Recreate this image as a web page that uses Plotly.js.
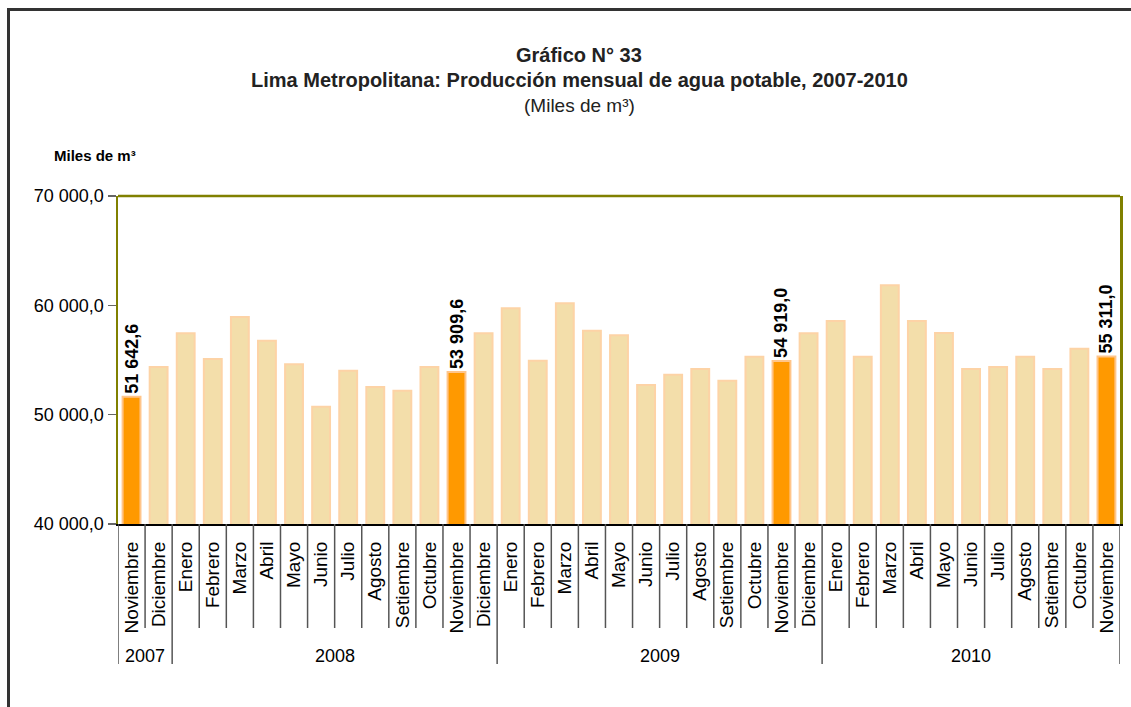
<!DOCTYPE html>
<html>
<head>
<meta charset="utf-8">
<script src="https://cdn.plot.ly/plotly-3.0.1.min.js"></script>
<style>
  html, body { margin: 0; padding: 0; background: #fff; }
  #wrap { position: relative; width: 1131px; height: 707px; }
  #chart { width: 1131px; height: 707px; }
  #frame { position: absolute; left: 7px; top: 8px; width: 1124px; height: 699px;
           border-top: 3px solid #333; border-left: 3px solid #333; pointer-events: none; box-sizing: border-box; }
</style>
</head>
<body>
<div id="wrap">
  <div id="chart"></div>
  <div id="frame"></div>
</div>
<script>
// ---- data ----
const months = [
  'Noviembre','Diciembre',
  'Enero','Febrero','Marzo','Abril','Mayo','Junio','Julio','Agosto','Setiembre','Octubre','Noviembre','Diciembre',
  'Enero','Febrero','Marzo','Abril','Mayo','Junio','Julio','Agosto','Setiembre','Octubre','Noviembre','Diciembre',
  'Enero','Febrero','Marzo','Abril','Mayo','Junio','Julio','Agosto','Setiembre','Octubre','Noviembre'
];
const years = ['2007', '2008', '2009', '2010'];
const yearCounts = [2, 12, 12, 11];
const production = [
  51642.6, 54364,
  57447, 55096, 58939, 56771, 54611, 50732, 54026, 52534, 52196, 54364, 53909.6, 57447,
  59734, 54940, 60192, 57685, 57264, 52717, 53660, 54181, 53111, 55306, 54919.0, 57447,
  58573, 55306, 61839, 58573, 57475, 54181, 54364, 55306, 54181, 56038, 55311.0
];
const valueLabels = [
  '51 642,6', '',
  '', '', '', '', '', '', '', '', '', '', '53 909,6', '',
  '', '', '', '', '', '', '', '', '', '', '54 919,0', '',
  '', '', '', '', '', '', '', '', '', '', '55 311,0'
];
const yTickVals = [40000, 50000, 60000, 70000];
const yTickText = ['40 000,0', '50 000,0', '60 000,0', '70 000,0'];
const titleLines = [
  'Gráfico N° 33',
  'Lima Metropolitana: Producción mensual de agua potable, 2007-2010',
  '(Miles de m³)'
];
const unitLabel = 'Miles de m³';

// ---- build ----
const idx = production.map((_, i) => i);
const hiIdx = idx.filter(i => valueLabels[i] !== '');
const loIdx = idx.filter(i => valueLabels[i] === '');
const BAR_W = 0.66;

const FONT = 'Liberation Sans, Arial, sans-serif';
const NARROW = 'Liberation Sans Narrow, Arial Narrow, Liberation Sans, Arial, sans-serif';

const baseTrace = {
  type: 'bar',
  x: loIdx,
  y: loIdx.map(i => production[i]),
  width: BAR_W,
  marker: { color: '#F3DEAA', line: { color: '#FDD3A6', width: 2 } },
  hoverinfo: 'skip'
};
const hiTrace = {
  type: 'bar',
  x: hiIdx,
  y: hiIdx.map(i => production[i]),
  width: BAR_W,
  text: hiIdx.map(i => valueLabels[i]),
  textposition: 'outside',
  textangle: -90,
  constraintext: 'none',
  cliponaxis: false,
  textfont: { family: FONT, size: 18, color: '#000', weight: 'bold' },
  marker: { color: '#FF9900', line: { color: '#FFC58A', width: 2 } },
  hoverinfo: 'skip'
};

const shapes = [];
const annotations = [];
const H = 328; // plot height in px (for paper conversion)
const W = 1002;
const sepBottom = -(628 - 524) / H;
const yearBottom = -(664 - 524) / H;

// month separators
for (let i = 0; i <= months.length; i++) {
  shapes.push({ type: 'line', xref: 'x', yref: 'paper', x0: i - 0.5, x1: i - 0.5,
    y0: 0, y1: sepBottom, line: { color: '#555', width: 1.5 } });
}
// year separators and labels
let start = 0;
for (let k = 0; k < years.length; k++) {
  const end = start + yearCounts[k];
  shapes.push({ type: 'line', xref: 'x', yref: 'paper', x0: start - 0.5, x1: start - 0.5,
    y0: sepBottom, y1: yearBottom, line: { color: '#555', width: 1.5 } });
  annotations.push({ xref: 'x', yref: 'paper', x: (start + end - 1) / 2, y: -(656 - 524) / H,
    text: years[k], showarrow: false, font: { family: FONT, size: 18, color: '#000' },
    xanchor: 'center', yanchor: 'middle' });
  start = end;
}
shapes.push({ type: 'line', xref: 'x', yref: 'paper', x0: start - 0.5, x1: start - 0.5,
  y0: sepBottom, y1: yearBottom, line: { color: '#555', width: 1.5 } });

// top frame line (olive)
shapes.push({ type: 'line', xref: 'paper', yref: 'paper', x0: 0, x1: 1, y0: 1, y1: 1,
  line: { color: '#808000', width: 2.5 } });

// title lines
const titleY = [55, 80, 105];
titleLines.forEach((t, k) => {
  annotations.push({ xref: 'paper', yref: 'paper', x: (579 - 118) / W, y: (524 - titleY[k]) / H,
    xanchor: 'center', yanchor: 'middle', showarrow: false,
    text: k < 2 ? '<b>' + t + '</b>' : t,
    font: { family: NARROW, size: k < 2 ? 20 : 19, color: '#222' } });
});

// y-axis unit label
annotations.push({ xref: 'paper', yref: 'paper', x: (52 - 118) / W, y: (524 - 156) / H,
  xanchor: 'left', yanchor: 'middle', showarrow: false,
  text: '<b>' + unitLabel + '</b>', font: { family: NARROW, size: 15, color: '#000' } });

const layout = {
  width: 1131, height: 707,
  margin: { l: 118, r: 11, t: 196, b: 183 },
  paper_bgcolor: '#fff', plot_bgcolor: '#fff',
  showlegend: false,
  barmode: 'overlay',
  xaxis: {
    range: [-0.5, months.length - 0.5],
    tickmode: 'array', tickvals: idx, ticktext: months,
    tickangle: -90, ticks: '', ticklabelstandoff: 8,
    tickfont: { family: FONT, size: 19, color: '#000' },
    showgrid: false, zeroline: false,
    showline: true, linecolor: '#000', linewidth: 2,
    fixedrange: true
  },
  yaxis: {
    range: [40000, 70000],
    tickmode: 'array', tickvals: yTickVals, ticktext: yTickText,
    ticks: 'outside', ticklen: 8, tickcolor: '#666', tickwidth: 1.5,
    tickfont: { family: FONT, size: 18, color: '#000' },
    showgrid: false, zeroline: false,
    showline: true, mirror: true, linecolor: '#808000', linewidth: 2.5,
    fixedrange: true
  },
  shapes: shapes,
  annotations: annotations
};

Plotly.newPlot('chart', [baseTrace, hiTrace], layout, { displayModeBar: false, staticPlot: true });
</script>
</body>
</html>
